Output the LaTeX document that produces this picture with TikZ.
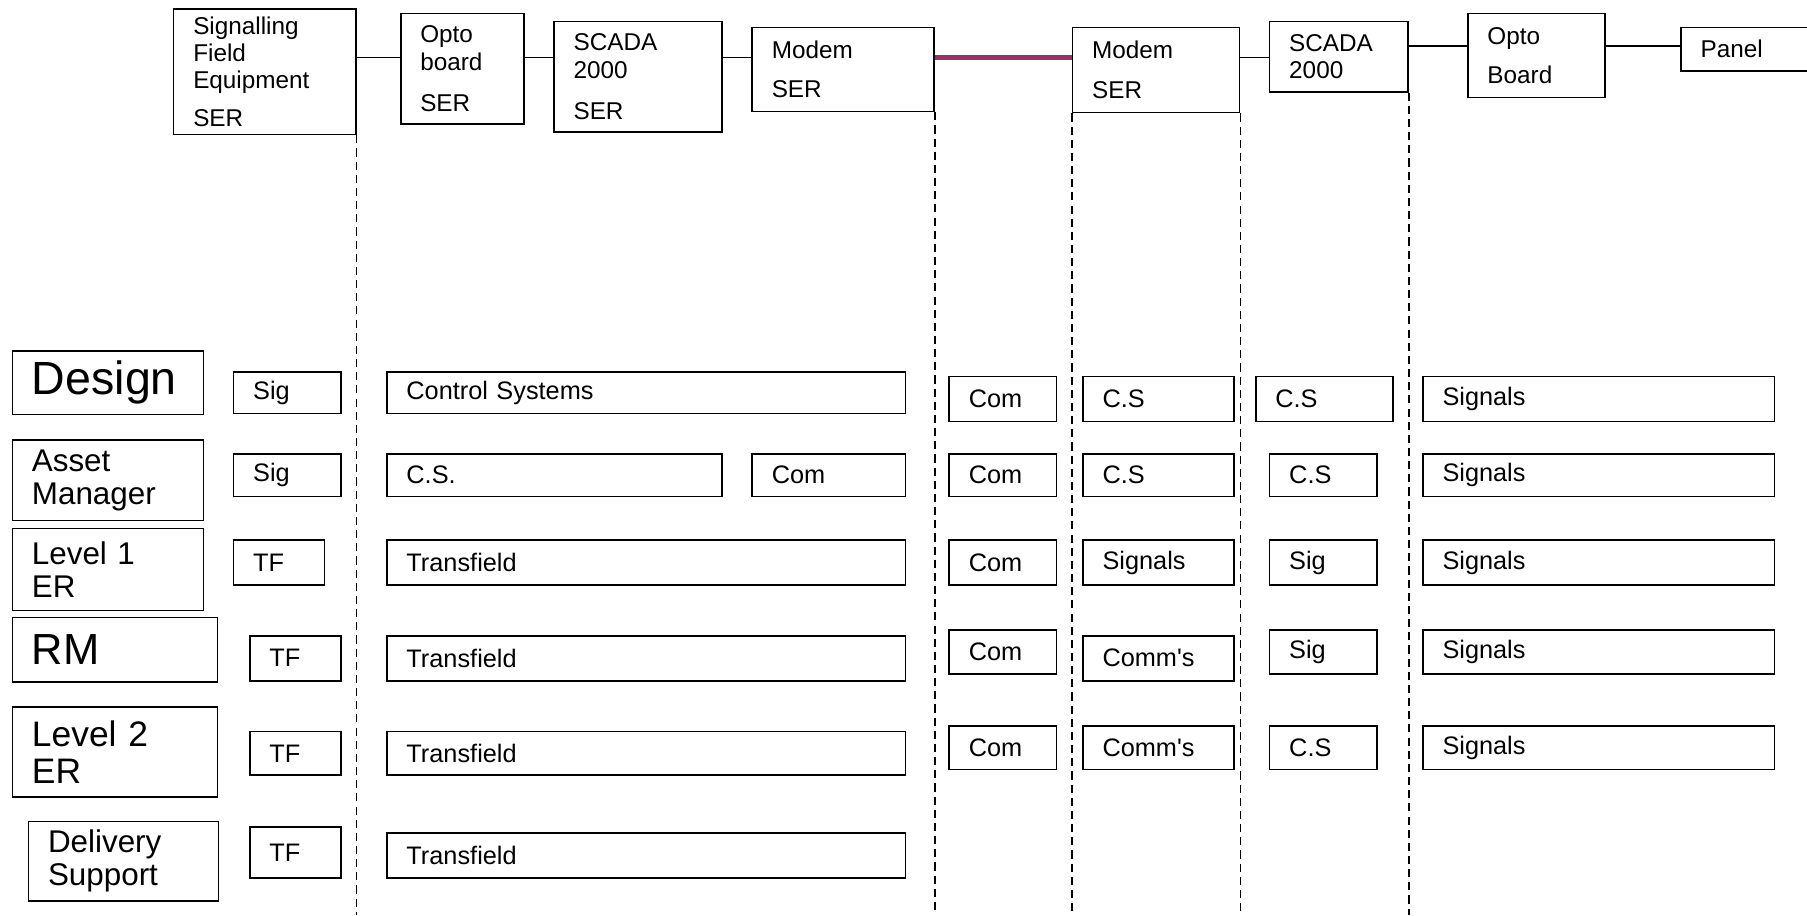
\documentclass[tikz,border=0pt]{standalone}
\usepackage{fontspec}
\setmainfont{Liberation Sans}
\definecolor{linkpurple}{HTML}{993366}
\tikzset{
    cell/.style n args={2}{draw=black, line width=0.8pt, anchor=north west,
        inner xsep=0.34cm, inner ysep=0pt, align=left,
        minimum width=#1*0.02cm, minimum height=#2*0.02cm,
        text width=#1*0.02cm-0.68cm},
    toptext/.style={font=\fontsize{12}{13.5}\selectfont},
    rowtext/.style={font=\fontsize{12.5}{14}\selectfont},
    bigtext/.style={font=\fontsize{#1}{#1}\selectfont},
    midtext/.style={font=\fontsize{15.5}{16.5}\selectfont},
    divider/.style={line width=0.75pt, dash pattern=on 4pt off 2.5pt},
    link/.style={line width=0.8pt},
    radiolink/.style={draw=linkpurple, line width=2.8pt},
}
\begin{document}
\begin{tikzpicture}[x=0.02cm, y=-0.02cm]
    \useasboundingbox (0,0) rectangle (1568,794);
    \coordinate (busa) at (0,50);
    \coordinate (busb) at (0,40);
    \coordinate (bot) at (0,794);

    \node[cell={158}{109}, toptext] (sfe) at (150,7) {Signalling\\Field\\Equipment\\[5pt]SER};
    \node[cell={107}{96}, toptext] (opto) at (347,11) {Opto\\board\\[7pt]SER};
    \node[cell={146}{96}, toptext] (scada) at (480,18) {SCADA\\2000\\[7pt]SER};
    \node[cell={158}{73}, toptext] (modem) at (652,23) {Modem\\[6pt]SER};
    \node[cell={145}{74}, toptext] (modemb) at (930,23) {Modem\\[6pt]SER};
    \node[cell={120}{61}, toptext] (scadab) at (1101,18) {SCADA\\2000};
    \node[cell={119}{73}, toptext] (optob) at (1273,11) {Opto\\[6pt]Board};
    \node[cell={160}{38}, toptext] (panel) at (1458,23) {Panel};

    \draw[link] (sfe.east |- busa) -- (opto.west |- busa);
    \draw[link] (opto.east |- busa) -- (scada.west |- busa);
    \draw[link] (scada.east |- busa) -- (modem.west |- busa);
    \draw[radiolink] (modem.east |- busa) -- (modemb.west |- busa);
    \draw[link] (modemb.east |- busa) -- (scadab.west |- busa);
    \draw[link] (scadab.east |- busb) -- (optob.west |- busb);
    \draw[link] (optob.east |- busb) -- (panel.west |- busb);

    \draw[divider] (sfe.south east) -- (sfe.south east |- bot);
    \draw[divider] (modem.south east) -- (modem.south east |- bot);
    \draw[divider] (modemb.south west) -- (modemb.south west |- bot);
    \draw[divider] (modemb.south east) -- (modemb.south east |- bot);
    \draw[divider] (scadab.south east) -- (scadab.south east |- bot);

    \node[cell={166}{55}, bigtext=23] (design) at (10,304) {Design};
    \node[cell={166}{70}, midtext] (asset) at (10,381) {Asset\\Manager};
    \node[cell={166}{71}, midtext] (levelone) at (10,458) {Level 1\\ER};
    \node[cell={178}{56}, bigtext=21.5] (rm) at (10,535) {RM};
    \node[cell={178}{78}, font=\fontsize{17.5}{18.5}\selectfont] (leveltwo) at (10,613) {Level 2\\ER};
    \node[cell={165}{69}, midtext] (delivery) at (24,712) {Delivery\\Support};

    \node[cell={93}{36}, rowtext] (dsig) at (202,322) {Sig};
    \node[cell={450}{36}, rowtext] (dcs) at (335,322) {Control Systems};
    \node[cell={93}{39}, rowtext] (dcom) at (823,326) {Com};
    \node[cell={131}{39}, rowtext] (dcsa) at (939,326) {C.S};
    \node[cell={119}{39}, rowtext] (dcsb) at (1089,326) {C.S};
    \node[cell={305}{39}, rowtext] (dsignals) at (1234,326) {Signals};

    \node[cell={93}{37}, rowtext] (asig) at (202,393) {Sig};
    \node[cell={291}{37}, rowtext] (acs) at (335,393) {C.S.};
    \node[cell={133}{37}, rowtext] (acoma) at (652,393) {Com};
    \node[cell={93}{37}, rowtext] (acomb) at (823,393) {Com};
    \node[cell={131}{37}, rowtext] (acsa) at (939,393) {C.S};
    \node[cell={93}{37}, rowtext] (acsb) at (1101,393) {C.S};
    \node[cell={305}{37}, rowtext] (asignals) at (1234,393) {Signals};

    \node[cell={79}{39}, rowtext] (ltf) at (202,468) {TF};
    \node[cell={450}{39}, rowtext] (ltrans) at (335,468) {Transfield};
    \node[cell={93}{39}, rowtext] (lcom) at (823,468) {Com};
    \node[cell={131}{39}, rowtext] (lsignalsa) at (939,468) {Signals};
    \node[cell={93}{39}, rowtext] (lsig) at (1101,468) {Sig};
    \node[cell={305}{39}, rowtext] (lsignalsb) at (1234,468) {Signals};

    \node[cell={79}{39}, rowtext] (rtf) at (216,551) {TF};
    \node[cell={450}{39}, rowtext] (rtrans) at (335,551) {Transfield};
    \node[cell={93}{38}, rowtext] (rcom) at (823,546) {Com};
    \node[cell={131}{39}, rowtext] (rcomms) at (939,551) {Comm\textquotesingle s};
    \node[cell={93}{38}, rowtext] (rsig) at (1101,546) {Sig};
    \node[cell={305}{38}, rowtext] (rsignals) at (1234,546) {Signals};

    \node[cell={79}{38}, rowtext] (ttf) at (216,634) {TF};
    \node[cell={450}{38}, rowtext] (ttrans) at (335,634) {Transfield};
    \node[cell={93}{38}, rowtext] (tcom) at (823,629) {Com};
    \node[cell={131}{38}, rowtext] (tcomms) at (939,629) {Comm\textquotesingle s};
    \node[cell={93}{38}, rowtext] (tcs) at (1101,629) {C.S};
    \node[cell={305}{38}, rowtext] (tsignals) at (1234,629) {Signals};

    \node[cell={79}{44}, rowtext] (stf) at (216,717) {TF};
    \node[cell={450}{39}, rowtext] (strans) at (335,722) {Transfield};
\end{tikzpicture}
\end{document}
